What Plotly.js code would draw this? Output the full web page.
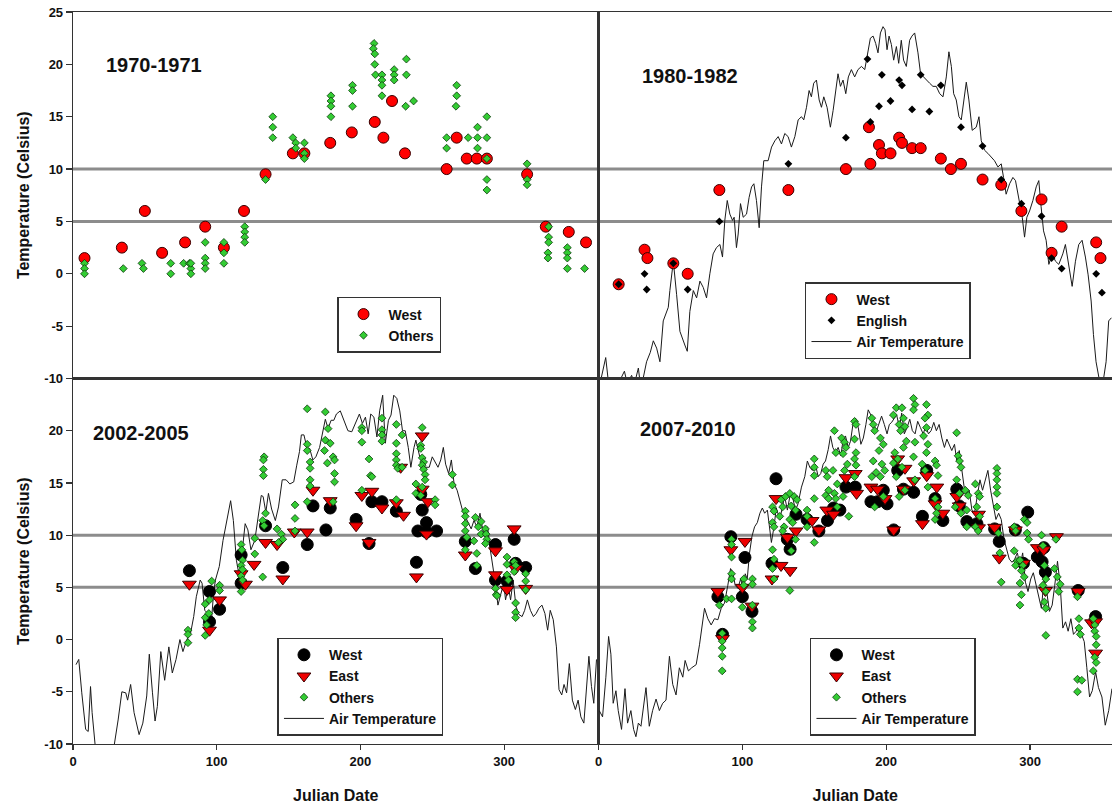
<!DOCTYPE html>
<html>
<head>
<meta charset="utf-8">
<script src="https://cdn.plot.ly/plotly-3.0.1.min.js"></script>
<style>html,body{margin:0;padding:0;background:#fff;}#chart{width:1112px;height:806px;}</style>
</head>
<body>
<div id="chart"></div>
<script>
// ---------- Panel titles and tick labels ----------
const panelTitles = ['1970-1971', '1980-1982', '2002-2005', '2007-2010'];
const yTicksTop = [-10, -5, 0, 5, 10, 15, 20, 25];
const yTickTextTop = ['-10', '-5', '0', '5', '10', '15', '20', '25'];
const yTicksBottom = [-10, -5, 0, 5, 10, 15, 20];
const yTickTextBottom = ['-10', '-5', '0', '5', '10', '15', '20'];
const xTicks = [0, 100, 200, 300];
const xTickText = ['0', '100', '200', '300'];
const refLevels = [5, 10];

// ---------- 1970-1971 ----------
const west70_x = [8, 34, 50, 62, 78, 92, 105, 119, 134, 153, 161, 179, 194, 210, 216, 222, 231, 260, 267, 274, 281, 288, 316, 329, 345, 357];
const west70_y = [1.5, 2.5, 6, 2, 3, 4.5, 2.5, 6, 9.5, 11.5, 11.5, 12.5, 13.5, 14.5, 13, 16.5, 11.5, 10, 13, 11, 11, 11, 9.5, 4.5, 4, 3];
const others70_x = [8, 8, 8, 35, 48, 49, 68, 68, 77, 81, 82, 82, 82, 92, 92, 92, 92, 105, 105, 105, 119.5, 119.5, 119.5, 119.5, 134, 139, 139, 139, 153, 155, 155,
  161, 161, 161, 179.5, 179.5, 179.5, 179.5, 194.5, 194.5, 194.5, 209.5, 209, 210, 210, 210.5, 215, 215, 215, 215, 223.5, 223.5, 223.5, 232, 232, 231.5, 237,
  260, 260, 267, 267, 266.5, 275, 281.5, 281.5, 281.5, 288, 288, 288, 288, 288, 316, 316, 316, 331, 331, 331, 330.5, 330.5, 344, 344, 344, 344, 356];
const others70_y = [1, 0.5, 0, 0.5, 1, 0.5, 1, 0, 1, 1, 0.5, 0, 1, 3, 1.5, 1, 0.5, 3, 2, 1, 4.5, 4, 3.5, 3, 9, 15, 14, 13, 13, 12.5, 12,
  12.5, 11.5, 11, 17, 16.5, 16, 15, 18, 17.5, 16, 22, 21.5, 21, 20, 19, 19, 18.5, 18, 17, 19.5, 19, 18.5, 20.5, 19, 16, 16.5,
  12, 13, 18, 17, 16, 13, 14, 13, 12, 15, 13, 11, 9, 8, 10.5, 9, 8.5, 4.5, 3.5, 3, 2, 1.5, 2.5, 2, 1.5, 0.5, 0.5];

// ---------- 1980-1982 ----------
const west80_x = [14, 32, 34, 52, 62, 84, 132, 172, 188, 189, 195, 197, 203, 209, 211, 218, 224, 238, 245, 252, 267, 280, 294, 308, 315, 322, 346, 349];
const west80_y = [-1, 2.3, 1.5, 1, 0, 8, 8, 10, 14, 10.5, 12.3, 11.5, 11.5, 13, 12.5, 12, 12, 11, 10, 10.5, 9, 8.5, 6, 7.1, 2, 4.5, 3, 1.5];
const english80_x = [14, 32, 33.5, 52, 62, 84, 132, 172, 187, 189, 195, 197, 203, 209, 211, 218, 224, 230, 238, 252, 267, 280, 294, 308, 315, 322, 346, 350];
const english80_y = [-1, 0, -1.5, 1, -1.5, 5, 10.5, 13, 20.5, 14.5, 16, 19, 16.5, 18.5, 18, 15.7, 19, 15.5, 18, 14, 12.2, 9, 6.7, 5.5, 1.5, 0.5, 0, -1.8];
const air80_x = [1, 5, 7, 12, 18, 20, 23, 25, 27.7, 29, 31, 33.4, 36, 38.1, 40.4, 42.7, 45, 47.3, 48.5, 49.6, 52, 54.3, 56.6, 60, 61.7, 63.5, 65.9, 68.2, 70.5, 72.8,
  75.1, 77.4, 79.7, 82, 84.4, 86.2, 87.8, 89.5, 91.3, 93.2, 94.3, 95.9, 97.1, 98.7, 100.6, 102.9, 104.7, 106.4, 108, 109.8, 111.7, 113.3, 114.9, 117.9, 120.3,
  122.6, 124.9, 127.2, 129.5, 131.8, 134.1, 136.5, 138.8, 141.1, 142.7, 144.6, 146.4, 148, 149.6, 151.5, 153.4, 155, 156.6, 158.9, 161.2, 163.1, 164.9, 166.5,
  168.2, 170, 171.9, 173.7, 175.8, 178.1, 180.4, 182.8, 185.1, 187.4, 189, 190.9, 192.7, 194.3, 196, 197.8, 199.2, 200.6, 202, 203.6, 205.2, 207.1, 208.7,
  210.5, 212.1, 214, 216.3, 217.9, 219.8, 222.1, 223.9, 226, 227.9, 230.2, 232.5, 234.8, 237.2, 239.5, 241.8, 243.6, 245.3, 246.9, 248.7, 250.6, 252.2,
  253.8, 255.7, 257.5, 259.8, 262.6, 264.5, 266.1, 268.4, 270.7, 273, 275.3, 277.7, 280, 281.6, 283.4, 285.8, 288.1, 289.9, 292.2, 294.6, 296.2, 297.8,
  299.7, 302, 304.3, 306.1, 307.7, 309.4, 311.2, 313.1, 315.4, 317.7, 320, 322.8, 324.6, 326.3, 329.3, 331.6, 333.9, 336.2, 338.5, 340.4, 342.5, 344.1,
  345.9, 348.3, 350.6, 352.9, 354.7, 356.6];
const air80_y = [-10.5, -8, -10.5, -11, -9.3, -10.5, -9.7, -10.5, -9, -10.5, -10, -8.4, -7.5, -6.4, -7.1, -8.4, -4.5, -3.6, -3.2, -1.6, 1.2, -2, -5.5, -6.8, -7.4, -3.6, -1.6, -2.3, -0.7, -1.3,
  -2.3, 0, 1.9, 2.5, 2.8, 1.6, 5.1, 7, 5.7, 5.1, 5.4, 2.5, 3.8, 6.7, 5.4, 5.7, 7.3, 8.3, 8.6, 7, 4.4, 8.3, 10.8, 10.8, 12.1,
  12.7, 13.1, 12.4, 13.4, 13.1, 12.1, 13.1, 14.7, 15, 14.7, 15.9, 17.5, 16.9, 18.2, 18.5, 16.6, 15.9, 16.9, 15.9, 14, 15.6, 17.5, 19.1,
  17.9, 18.5, 17.2, 18.8, 19.5, 18.8, 19.5, 19.8, 19.5, 21.4, 22.5, 22.7, 22, 21.1, 23, 23.6, 23.3, 21.4, 22.7, 21.9, 20.4, 21.7, 20.1,
  22.3, 20.4, 19.8, 22.3, 22.7, 23, 21.1, 19.1, 18.8, 18.5, 18.2, 17.9, 17.9, 17.2, 16.9, 18.8, 21.2, 19.8, 17.2, 16.6, 15, 14.7,
  16.6, 18.3, 16.6, 13.7, 14, 15, 12.7, 11.8, 11.5, 11.1, 10.8, 10.2, 10.5, 9.2, 7.6, 8.6, 9.2, 8.9, 7, 5.4, 3.5, 5.4,
  6, 7, 8.3, 8.9, 6.4, 4.1, 3.2, 0.9, 1.9, 1.2, 0.9, 1.9, 2.8, 1.2, -1.2, 1.2, 2.8, 3.2, 1.6, -0.1, -2.6, -5.8,
  -8.4, -10.2, -10.5, -8.4, -4.5, -4.2];

// ---------- 2002-2005 ----------
const west02_x = [81, 95, 95, 102, 117, 117, 134, 146, 163, 167, 176, 179, 197, 206, 208, 215, 225, 239, 240, 242, 243, 246, 246, 253, 273, 280, 294, 294, 302, 307, 308, 315];
const west02_y = [6.6, 4.6, 1.7, 2.9, 8.1, 5.4, 10.9, 6.9, 9.1, 12.8, 10.5, 12.6, 11.5, 9.2, 13.2, 13.2, 12.3, 7.4, 10.4, 13.9, 12.4, 11.2, 10.3, 10.4, 9.4, 6.8, 9.1, 5.7, 5.6, 9.6, 7.3, 6.9];
const east02_x = [81, 95, 102, 117, 120, 126, 134, 142, 146, 154, 163, 167, 179, 197, 201, 206, 208, 215, 225, 228, 230, 239, 243, 243, 246, 247, 273, 294, 294, 307, 308, 302, 315];
const east02_y = [5.3, 0.9, 3.8, 6.3, 5.3, 7.2, 9.3, 9.1, 5.8, 10.3, 10.3, 14.3, 13.3, 10.9, 13.8, 9.3, 14.2, 12.6, 13.1, 16.5, 11.9, 6, 14.4, 19.5, 10.1, 13.2, 8.1, 6.2, 8.5, 10.6, 6.8, 4.8, 4.9];
const others02_x = [80, 80, 80, 96.5, 95, 92, 92, 93, 92, 94.5, 102, 102, 117, 117.5, 118, 117, 118, 117, 118, 117, 126.5, 126.5,
  133, 132.5, 132.5, 132.5, 134, 132, 133, 132, 142, 145, 146, 143, 154.5, 154.5, 154.5,
  163, 163, 163, 165, 165, 165, 165, 163, 175.6, 177.5, 175.6, 179, 175, 181, 182, 177, 182, 182, 181,
  201, 201, 201, 206, 201, 207, 208, 215, 215, 215, 215, 225, 225, 225, 225, 225, 226, 225, 229, 229, 238.6, 238.6,
  243, 242, 242, 243, 244, 243, 244, 245, 245, 243, 242, 252, 252, 264, 264,
  273, 273, 273, 273, 274, 273, 280, 284, 282, 284, 279, 281, 281, 287, 287.5, 288, 287,
  294, 294.5, 295, 302, 302, 302, 303, 307, 308, 307, 308, 308, 308, 315, 315, 315];
const others02_y = [0.9, 0.5, -0.3, 5.6, 3.8, 3.4, 2.1, 1.4, 0.4, 2.5, 5.2, 4.7, 9.1, 8.6, 7.6, 7.1, 6.7, 6.1, 5.7, 4.6, 8.2, 9.7,
  17.5, 17.2, 16.3, 15.7, 12.1, 11.4, 10.9, 6, 10.6, 10.1, 9.6, 9.3, 12.9, 11.6, 10.4,
  22.1, 18.7, 18.1, 17, 16.4, 15.3, 14.7, 13.2, 21.8, 20.2, 19.1, 18.8, 18.1, 17.5, 17.2, 16.9, 15.9, 15.1, 13.2,
  20.3, 20, 18.9, 17.3, 14.3, 15.7, 15.6, 21.2, 20.1, 19.6, 19, 20.6, 18.8, 17.8, 17.2, 16.7, 16.4, 13.4, 19.6, 16.5, 14.9, 14,
  20.3, 18.6, 18.3, 17.4, 17, 16.7, 16.3, 15.8, 15.3, 14.6, 13.8, 13.4, 12.9, 15.8, 14.8,
  12.3, 11.8, 11.1, 10.4, 9.8, 8.6, 11.7, 11.3, 10.8, 10.1, 9.45, 8.25, 7.1, 10.6, 10.1, 9.6, 9.2,
  4.9, 4.3, 4.2, 7.9, 7.2, 6.2, 5.7, 7.45, 7.1, 6.5, 3.5, 2.6, 2.1, 6.3, 5.6, 4.75];
const air02_x = [2.1, 4, 6.1, 8.8, 10.6, 12.2, 13.3, 15.4, 17, 28.7, 31.4, 34, 36.7, 38, 40.1, 42.5, 46, 48.6, 51.3, 53.1, 55.3, 57.1, 58.7, 61.1, 63.8, 66.7,
  69.1, 71.7, 74.4, 76.5, 79.2, 81.8, 84, 85.8, 88.5, 89.8, 91.7, 93.8, 96.4, 97.8, 99.1, 101.8, 104.4, 107.1, 109.7, 111.6, 113.7, 115.8, 118, 119.8, 121.7,
  123.8, 126.5, 129.1, 131, 132.3, 134.2, 136, 138.2, 140.8, 143, 145.6, 148.3, 150.9, 153.6, 155.7, 157.6, 158.9, 160.7, 162.9, 164.7, 166.9, 169, 171.6,
  173.5, 175.6, 177.5, 179.6, 181.5, 183.3, 186, 188.6, 191.3, 194, 196.6, 199.3, 201.4, 203.5, 205.4, 207.2, 209.4, 211.5, 213.4, 215.5, 217.3, 219.5,
  221.3, 223.2, 225.3, 227.4, 229.3, 231.2, 233.3, 235.1, 237.3, 238.6, 241.3, 243.4, 245.2, 247.9, 250, 251.9, 254, 255.9, 257.7, 259.3, 261.4, 263.3,
  265.2, 267.3, 269.2, 271, 273.1, 275.3, 277.1, 279, 281.1, 283.2, 285.1, 287, 288.5, 290.4, 292.3, 293.9, 295.7, 297.6, 299.7, 301, 302.9, 304.5, 306.3,
  308.2, 310.3, 312.5, 314.3, 316.2, 318.3, 320.4, 322.3, 324.2, 326.3, 328.4, 330.3, 332.1, 334.2, 336.4, 338.2, 340.1, 341.7, 343.5, 345.4, 347.5, 349.6,
  351.5, 353.4, 355.5, 357.4, 359, 360.8, 362.4, 364.3];
const air02_y = [-2.4, -1.9, -5.1, -8.6, -8.8, -4.5, -7, -10.1, -11, -10.1, -7.7, -5, -5.1, -5.8, -4.3, -7, -9.1, -8, -5.4, -1.4, -5.1, -7.8, -6.4, -1.15, -3.9, -0.7,
  -3.2, -1.9, 0, -1.15, 0, 0.6, 2.2, 4.1, 5.7, 5.4, 2.8, 2.5, 1.9, 4.4, 5.7, 7, 9.5, 11.4, 13.3, 11.4, 7.6, 6, 8.9, 11.1, 10.5,
  8.6, 9.5, 11.75, 13.8, 13.7, 12.2, 14, 12.5, 11.4, 12.7, 15.3, 15.3, 14.9, 15.1, 16.7, 18, 19.6, 19.6, 18.3, 18.3, 17.2, 17.5, 18.4,
  19.7, 21.1, 20.2, 21, 21, 21.6, 21.9, 21, 20, 19.9, 20.7, 21.6, 20.7, 21.3, 19.7, 21.6, 21.3, 19.4, 21.9, 23.4, 18.8, 21,
  21.5, 23.4, 23.1, 21.9, 20, 20, 18.4, 16.5, 18.4, 19.1, 17.5, 16.8, 16.5, 16.5, 17.5, 17, 16.5, 17.2, 18.4, 16.8, 15.9, 17.2,
  14.9, 14.3, 13.3, 12.4, 11.75, 11.1, 10.6, 11.4, 10.8, 12.1, 10.5, 9.8, 10.8, 8.6, 7, 5.4, 3.3, 4.4, 5.4, 3.8, 5.1, 3.8, 5.7,
  3.2, 2.4, 2.2, 2.8, 3.8, 2.8, 2.2, 2.5, 3, 3.3, 2.5, 0.9, 2.8, 1.9, -0.7, -4.8, -5.3, -4.3, -5.1, -2.3, -5.8, -6.7,
  -5.8, -7.4, -8, -4.2, -1.6, -4.5, -6.1, -1.9];

// ---------- 2007-2010 ----------
const west07_x = [83, 86.2, 92, 101.8, 100, 106.7, 123.4, 120.6, 131.3, 133.2, 137.3, 145, 153.2, 159.2, 163.4, 167.8, 172, 178.5, 189.4, 194, 198, 200.6, 205.2,
  208, 212, 219.1, 225.2, 228.2, 234, 239.4, 249.1, 250.8, 256.1, 263.1, 275.4, 278.6, 289.8, 295.4, 298.4, 305.1, 309.6, 308.4, 310.7, 333.5, 345.6];
const west07_y = [4.1, 0.5, 9.85, 7.86, 4.1, 2.7, 15.4, 7.3, 9.6, 8.65, 12, 11.5, 10.4, 11.4, 12.6, 12.4, 14.6, 14.6, 13.2, 13.2, 14.3, 13, 10.5,
  16.2, 14.4, 14.1, 11.8, 16.2, 13.5, 11.4, 14.4, 12.8, 11.3, 11.1, 10.6, 9.4, 10.5, 7.3, 12.2, 7.9, 8.8, 7.45, 6.45, 4.7, 2.2];
const east07_x = [83, 86.2, 92, 101.8, 100, 106.7, 123.4, 120.6, 126.9, 133.2, 131.3, 137.3, 148.5, 153.2, 158.7, 163.4, 172, 178.5, 179.4, 189.4, 194, 199.2, 205.2,
  208, 213.1, 212, 219.1, 225.2, 228.2, 235.2, 234, 239.4, 249.1, 250.8, 264.2, 264.2, 275.4, 278.6, 289.8, 295.4, 305.1, 309.6, 310.7, 318.4, 333.5, 342.8, 345.6, 345.6];
const east07_y = [4.6, 0.1, 8.6, 9.4, 5, 3.2, 13.5, 5.8, 7.1, 6.6, 9.8, 10.4, 11.4, 10.5, 12.4, 12, 15.5, 15.9, 14, 14.6, 14.4, 13.5, 10.5,
  17.3, 16.4, 14.4, 15.2, 11.1, 15.7, 14.6, 13, 12.1, 13.7, 12.8, 12, 10.7, 10.75, 7.8, 10.5, 7.3, 8.8, 8.6, 4.7, 9.85, 4.6, 1.6, 1.7, -1.3];
const others07_x = [84, 86, 86, 86, 86, 86, 89, 92.5, 92.5, 92.5, 92.5, 92.5, 92.5, 101, 101, 100, 107, 107, 107, 107, 107,
  121, 122, 121, 122, 121, 122, 121, 122, 127, 128, 126, 129, 128, 130, 133, 136, 138, 134, 137, 133, 135, 137, 134, 133,
  145, 145, 145, 150, 150, 150, 150, 150, 158, 159, 160, 158, 160, 164, 165, 163, 166, 164, 165, 166,
  169, 171, 172, 170, 173, 171, 170, 174, 178, 179, 178, 179, 178, 179, 178, 190, 191, 192, 191, 193, 190, 192,
  196, 198, 195, 197, 199, 196, 198, 207, 205, 209, 206, 208, 205, 207, 209, 211, 212, 213, 210, 214, 212, 211, 213,
  219, 220, 219, 220, 219, 220, 228, 229, 227, 228, 226, 229, 228, 225, 227, 229, 234, 235, 236, 234, 236, 235, 234,
  249, 250, 251, 252, 249, 251, 248, 252, 255, 257, 256, 256, 262, 264, 265, 263, 265, 262, 264,
  277, 277, 277, 277, 277, 277, 278, 279, 280, 289, 290, 289, 291, 290, 293, 295, 294, 296, 293, 294, 293, 296, 298, 298, 299,
  308, 309, 310, 311, 309, 311, 310, 311, 311, 317, 319, 321, 320, 318, 333, 334, 334, 335, 333, 333, 336,
  344, 345, 345, 346, 346, 345, 346, 344];
const others07_y = [3.3, 0.6, -0.15, -0.8, -1.6, -3, 3.9, 9.6, 9.1, 7.9, 6.3, 5.8, 3.9, 5.8, 5.2, 3.1, 5.8, 5.3, 3.3, 1.7, 1.1,
  12.7, 12.3, 11.2, 10.8, 8.6, 7.7, 6.8, 5.8, 13.4, 12.7, 11.8, 10.8, 10.4, 13.7, 14, 13.7, 13.4, 12.8, 12.4, 11.5, 11.2, 9.6, 8.5, 4.7,
  12.4, 11.8, 10.8, 17.3, 16.5, 15.7, 13.5, 9.3, 16.2, 15.6, 14.3, 13.8, 13.5, 20, 17.9, 16.2, 14.9, 14, 13.5, 12.7,
  19.3, 18.9, 18.4, 17.8, 16.8, 16.2, 13.7, 11.8, 20.9, 20.6, 19.2, 17.9, 17.3, 16.7, 15.6, 21.2, 20.6, 20, 17.1, 16, 15.6, 12.7,
  19.3, 18.7, 18.1, 16.8, 16.2, 15.6, 13.7, 22.2, 21.5, 20.6, 17.9, 17.3, 16.9, 15.6, 13.7, 22.2, 21.2, 20.4, 20, 19, 18.4, 16.5, 14.3,
  23.1, 22.5, 22, 18.9, 17.5, 15.3, 22.5, 21.5, 21.2, 20.3, 19.5, 18.7, 17.9, 16.8, 16.2, 14.6, 17.1, 16.7, 15.7, 13.5, 12.7, 12.1, 11.5,
  19.8, 17.6, 17.1, 16.5, 15.3, 14, 12.7, 12.1, 14.3, 13.8, 12.4, 10.8, 14.9, 14, 13.7, 12.7, 11.8, 10.8, 10.4,
  16.4, 15.9, 15.3, 14.6, 14, 12.7, 10.2, 8.3, 5.5, 10.8, 10.4, 8.5, 7.5, 7.1, 7.6, 7.1, 6.6, 6, 5.4, 4.3, 3.3, 11.5, 11.2, 10.2, 9.6,
  10, 9, 7.1, 5.8, 5.2, 4.6, 3.6, 3, 0.4, 6.8, 6, 5.3, 4.6, 9.6, 4.1, 2, 1.1, 0.5, -3.8, -5, -3.9,
  2, 1.4, 0.8, 0.3, -0.5, -1.7, -2.2, -3];
const air07_x = [0.5, 2.8, 5.1, 7, 8.6, 10.2, 12.1, 13.7, 16, 18.4, 20.2, 22.5, 24.4, 26, 27.7, 29.5, 33, 35.3, 37.6, 40, 42.3, 44.6, 46.9, 49.3, 51.6, 53.9,
  56.2, 58.6, 60.2, 62.5, 64.8, 67.9, 70.2, 73.7, 76, 78.3, 80.6, 83, 85.3, 87.6, 89.9, 91.8, 93.4, 95, 96.9, 98.8, 100.4, 102, 103.4, 105, 106.7, 108.5,
  110.4, 112.2, 113.9, 115.5, 117.4, 119, 120.2, 122, 123.6, 126, 127.8, 129.4, 131.3, 133.4, 135.3, 137, 138.7, 141.1, 143.4, 145.2, 146.9, 148.7, 150.8,
  152.7, 154.5, 156.2, 157.8, 159.7, 161.3, 162.9, 164.8, 166.6, 168.5, 170.1, 171.7, 173.6, 175.2, 177.1, 178.7, 180.6, 182.4, 184.1, 185.9, 187.5, 189.4,
  191.3, 193.3, 195, 196.8, 198.7, 200.6, 202.2, 203.8, 205.7, 207.3, 209.2, 210.8, 212.6, 214.5, 216.4, 218.2, 220.1, 221.9, 223.8, 225.7, 227.5, 229.4,
  231.2, 233.1, 234.9, 236.8, 238.7, 240.5, 242.2, 244, 245.6, 247.5, 249.1, 250.8, 252.6, 254.2, 255.9, 257.7, 259.6, 261.4, 263.3, 265.2, 267, 268.9,
  270.7, 272.6, 274.5, 276.3, 278.2, 280, 281.9, 283.8, 285.6, 287.5, 289.3, 291.2, 293.1, 294.9, 296.8, 298.6, 300.5, 302.3, 304.2, 306.1, 307.9, 309.8,
  311.6, 313.5, 315.4, 317.2, 319.1, 321, 322.8, 324.7, 326.5, 328.4, 330.2, 332.1, 334, 335.8, 337.7, 339.5, 341.4, 343.3, 345.6, 347.6, 350, 352.3,
  354.7, 357];
const air07_y = [-6.8, -7.4, -3.6, 0.3, -1.4, -6.1, -4.9, -6.8, -8.6, -4.7, -8, -6.8, -8.6, -9.3, -8, -8.3, -4.6, -8.3, -6.8, -5.7, -6.8, -6.1, -5.8, -1.6, -4.3, -5.3,
  -2.7, -3.6, -2, -3, -2.7, -2.4, -0.5, 3, 2, 1.4, 2, 1.9, 3, 3.5, 5.2, 6.8, 6.4, 5.2, 4.9, 5.8, 5, 6.3, 5.8, 8.3, 9.9, 10.8,
  11.2, 12.1, 12.6, 12.1, 12.4, 10.8, 9.3, 10.8, 12.6, 11.5, 12.7, 13.7, 12.4, 14, 13.4, 12.4, 13, 14.6, 15.6, 17.1, 16.5, 16.2, 16.8,
  15.6, 15.9, 16.8, 17.1, 18.2, 19.5, 18.4, 17.9, 18.4, 17.6, 19.2, 19.5, 18.4, 19, 20.8, 21.2, 20.3, 18.7, 19.3, 20.6, 22, 21.5,
  20.3, 20, 20.6, 21.4, 20.6, 19.7, 20.6, 20.8, 21.2, 21.5, 20.3, 21.7, 19.7, 20.3, 21.1, 20, 19.7, 20.9, 20.3, 19.7, 20.4, 19.7,
  20, 20.8, 20, 20.6, 19.3, 18.4, 19.2, 18.7, 18.1, 18.7, 17.1, 18.1, 16.2, 14.6, 14, 14.3, 12.4, 12.1, 13.7, 15.3, 14.3, 15.3,
  16.2, 14.3, 12.7, 11.5, 12.1, 11.5, 9.6, 8.6, 7.7, 7.4, 7.7, 8.3, 7.1, 8.3, 5.5, 4.6, 5.8, 6.4, 5.2, 4.2, 3, 5.8,
  4.6, 2.7, 3.3, 5.2, 7.5, 5.2, 1.1, 1.7, 0.8, 2, 0.5, 0.8, 1.4, 0.5, -0.2, -2.7, -5.5, -4.9, -3.1, -4.6, -5.5, -8.2,
  -6.8, -4.7];

// ---------- Styles ----------
const FONT = 'Liberation Sans, Arial, Helvetica, sans-serif';
const AX = '#333333';
const GREEN = '#33cc33';
const circleRed = {symbol: 'circle', size: 11, color: '#ff0000', line: {color: '#3a0000', width: 1}};
const circleBlack = {symbol: 'circle', size: 12, color: '#000000', line: {color: '#000000', width: 1}};
const triRed = {symbol: 'triangle-down', size: 12, color: '#ee0000', line: {color: '#3a0000', width: 1}};
const diaGreen = {symbol: 'diamond', size: 6, color: GREEN, line: {color: '#0b3a0b', width: 0.8}};
const diaBlack = {symbol: 'diamond', size: 6, color: '#000000', line: {color: '#000000', width: 0}};
const airLine = {color: '#1a1a1a', width: 1};

function pts(x, y, name, marker, xa, ya, lg, rank) {
  return {type: 'scatter', mode: 'markers', x: x, y: y, name: name, marker: marker, xaxis: xa, yaxis: ya, legend: lg, legendrank: rank, cliponaxis: true, hoverinfo: 'skip'};
}
function line(x, y, xa, ya, lg) {
  return {type: 'scatter', mode: 'lines', x: x, y: y, name: 'Air Temperature', line: airLine, xaxis: xa, yaxis: ya, legend: lg, legendrank: 10, hoverinfo: 'skip'};
}

const data = [
  pts(west70_x, west70_y, 'West', circleRed, 'x', 'y', 'legend', 1),
  pts(others70_x, others70_y, 'Others', diaGreen, 'x', 'y', 'legend', 2),

  line(air80_x, air80_y, 'x2', 'y2', 'legend2'),
  pts(west80_x, west80_y, 'West', circleRed, 'x2', 'y2', 'legend2', 1),
  pts(english80_x, english80_y, 'English', diaBlack, 'x2', 'y2', 'legend2', 2),

  line(air02_x, air02_y, 'x3', 'y3', 'legend3'),
  pts(west02_x, west02_y, 'West', circleBlack, 'x3', 'y3', 'legend3', 1),
  pts(east02_x, east02_y, 'East', triRed, 'x3', 'y3', 'legend3', 2),
  pts(others02_x, others02_y, 'Others', diaGreen, 'x3', 'y3', 'legend3', 3),

  line(air07_x, air07_y, 'x4', 'y4', 'legend4'),
  pts(west07_x, west07_y, 'West', circleBlack, 'x4', 'y4', 'legend4', 1),
  pts(east07_x, east07_y, 'East', triRed, 'x4', 'y4', 'legend4', 2),
  pts(others07_x, others07_y, 'Others', diaGreen, 'x4', 'y4', 'legend4', 3)
];

const xSplit = 0.5058, ySplit = 0.4993;
const tickFont = {family: FONT, size: 13, color: '#111', weight: 'bold'};
const titleFont = {family: FONT, size: 16, color: '#111', weight: 'bold'};

function xax(dom, rng, showTicks, anchor) {
  const a = {domain: dom, range: rng, anchor: anchor, showgrid: false, zeroline: false, showline: true, mirror: true,
    linecolor: AX, linewidth: 1.3, fixedrange: true};
  if (showTicks) {
    Object.assign(a, {tickmode: 'array', tickvals: xTicks, ticktext: xTickText, ticks: 'outside', ticklen: 5, tickwidth: 1.2, tickcolor: AX,
      tickfont: tickFont, title: {text: 'Julian Date', font: titleFont, standoff: 22}});
  } else {
    Object.assign(a, {showticklabels: false, ticks: ''});
  }
  return a;
}
function yax(dom, vals, texts, showTicks, anchor, mirror) {
  const a = {domain: dom, range: [-10, 25], anchor: anchor, showgrid: false, zeroline: false, showline: true, mirror: mirror,
    linecolor: AX, linewidth: 1.3, fixedrange: true};
  if (showTicks) {
    Object.assign(a, {tickmode: 'array', tickvals: vals, ticktext: texts, ticks: 'outside', ticklen: 6, tickwidth: 1.2, tickcolor: AX,
      tickfont: tickFont, title: {text: 'Temperature (Celsius)', font: titleFont, standoff: 10}});
  } else {
    Object.assign(a, {showticklabels: false, ticks: ''});
  }
  return a;
}

const shapes = [];
['y', 'y3'].forEach(function (yr) {
  refLevels.forEach(function (lv) {
    shapes.push({type: 'line', xref: 'paper', x0: 0, x1: 1, yref: yr, y0: lv, y1: lv, layer: 'below',
      line: {color: '#8c8c8c', width: 3}});
  });
});

const annFont = {family: FONT, size: 20, color: '#111', weight: 'bold'};
const annotations = [
  {text: panelTitles[0], xref: 'x', yref: 'y', x: 21.5, y: 19.9, xanchor: 'left', yanchor: 'middle', showarrow: false, font: annFont},
  {text: panelTitles[1], xref: 'x2', yref: 'y2', x: 28.8, y: 18.9, xanchor: 'left', yanchor: 'middle', showarrow: false, font: annFont},
  {text: panelTitles[2], xref: 'x3', yref: 'y3', x: 12.8, y: 19.8, xanchor: 'left', yanchor: 'middle', showarrow: false, font: annFont},
  {text: panelTitles[3], xref: 'x4', yref: 'y4', x: 27.4, y: 20.2, xanchor: 'left', yanchor: 'middle', showarrow: false, font: annFont}
];

function leg(x, y) {
  return {x: x, y: y, xanchor: 'left', yanchor: 'top', bgcolor: '#ffffff', bordercolor: AX, borderwidth: 1.5,
    font: {family: FONT, size: 14, color: '#111', weight: 'bold'}, itemwidth: 40, traceorder: 'normal'};
}

const layout = {
  width: 1112, height: 806,
  margin: {l: 73, r: 0, t: 12, b: 62, autoexpand: false},
  paper_bgcolor: '#ffffff', plot_bgcolor: '#ffffff',
  font: {family: FONT, color: '#111'},
  showlegend: true,
  xaxis: xax([0, xSplit], [0, 365.7], false, 'y'),
  yaxis: yax([ySplit, 1], yTicksTop, yTickTextTop, true, 'x', true),
  xaxis2: xax([xSplit, 1], [0, 357], false, 'y2'),
  yaxis2: yax([ySplit, 1], yTicksTop, yTickTextTop, false, 'x2', false),
  xaxis3: xax([0, xSplit], [0, 365.7], true, 'y3'),
  yaxis3: yax([0, ySplit], yTicksBottom, yTickTextBottom, true, 'x3', true),
  xaxis4: xax([xSplit, 1], [0, 357], true, 'y4'),
  yaxis4: yax([0, ySplit], yTicksBottom, yTickTextBottom, false, 'x4', false),
  legend: leg(0.2541, 0.6107),
  legend2: leg(0.7045, 0.6311),
  legend3: leg(0.1968, 0.1452),
  legend4: leg(0.7093, 0.1452),
  shapes: shapes,
  annotations: annotations
};

Plotly.newPlot('chart', data, layout, {displayModeBar: false, staticPlot: true});
</script>
</body>
</html>
